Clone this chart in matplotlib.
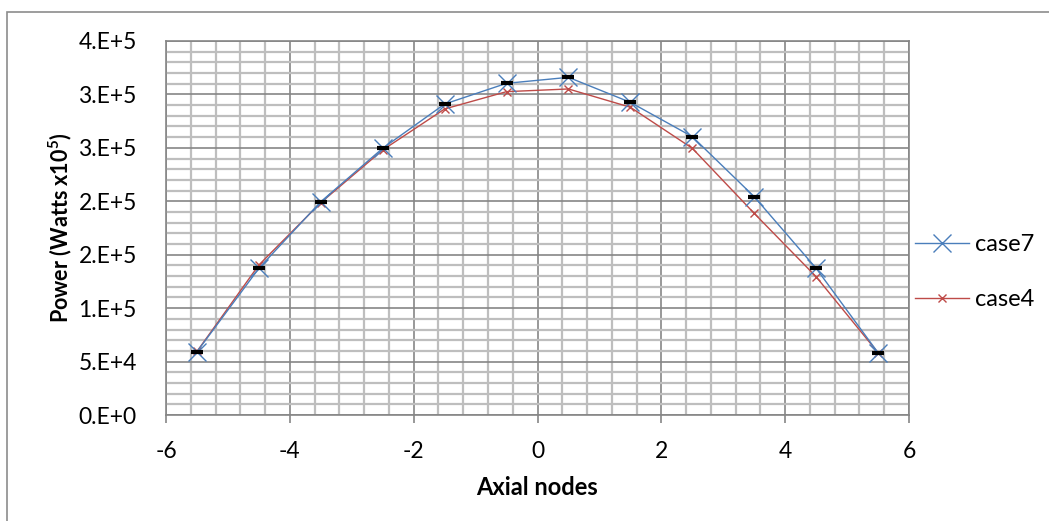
import matplotlib
matplotlib.use("Agg")
import matplotlib.pyplot as plt
from matplotlib.patches import Rectangle
from matplotlib.ticker import MultipleLocator, FixedLocator, FixedFormatter

plt.rcParams['font.family'] = ['Lato', 'DejaVu Sans']
plt.rcParams['mathtext.fontset'] = 'custom'
plt.rcParams['mathtext.rm'] = 'Lato'
plt.rcParams['mathtext.bf'] = 'Lato:bold'
plt.rcParams['axes.unicode_minus'] = False

# Axial node positions and power per node
axial_nodes = [-5.5, -4.5, -3.5, -2.5, -1.5, -0.5, 0.5, 1.5, 2.5, 3.5, 4.5, 5.5]
case7 = [59200, 137300, 199600, 249600, 291000, 310400,
         316000, 292600, 260500, 204300, 137300, 58300]
case4 = [59500, 140400, 198700, 248000, 286400, 302600,
         305100, 288000, 249600, 188700, 129400, 58300]

y_tick_values = [0, 50000, 100000, 150000, 200000, 250000, 300000, 350000]
y_tick_labels = ['0.E+0', '5.E+4', '1.E+5', '2.E+5', '2.E+5', '3.E+5', '3.E+5', '4.E+5']
x_tick_values = [-6, -4, -2, 0, 2, 4, 6]

W, H = 1049, 521
fig = plt.figure(figsize=(W / 100, H / 100), dpi=100)
ax = fig.add_axes([166 / W, 1 - 415 / H, (909 - 166) / W, (415 - 41) / H])

blue = '#4A7EBB'
red = '#BE4B48'
major_grid = '#868686'
minor_grid = '#BEBEBE'

ax.plot(axial_nodes, case7, color=blue, lw=1.0, marker='x', ms=13, mew=1.0,
        label='case7', zorder=4)
ax.plot(axial_nodes, case4, color=red, lw=1.0, marker='x', ms=6, mew=1.0,
        label='case4', zorder=3)
ax.plot(axial_nodes, case7, ls='none', marker='_', ms=8, mew=3.0,
        color='black', zorder=5, label='_nolegend_')

ax.set_xlim(-6, 6)
ax.set_ylim(0, 350000)
ax.xaxis.set_major_locator(FixedLocator(x_tick_values))
ax.xaxis.set_minor_locator(MultipleLocator(0.4))
ax.yaxis.set_major_locator(FixedLocator(y_tick_values))
ax.yaxis.set_major_formatter(FixedFormatter(y_tick_labels))
ax.yaxis.set_minor_locator(MultipleLocator(10000))

ax.grid(which='minor', color=minor_grid, lw=1.6, zorder=0)
ax.grid(which='major', color=major_grid, lw=1.2, zorder=1)
ax.set_axisbelow(True)

for s in ax.spines.values():
    s.set_color(major_grid)
    s.set_linewidth(1.2)

ax.tick_params(axis='x', which='major', length=6, width=1.2, color=major_grid,
               labelsize=16.5, pad=13, direction='out')
ax.tick_params(axis='y', which='major', length=0, labelsize=16.5, pad=21)
ax.tick_params(which='minor', length=0)

ax.set_xlabel('Axial nodes', fontsize=17, fontweight='bold', labelpad=10)
ax.set_ylabel(r'Power (Watts x10$^{\mathbf{5}}$)', fontsize=15.5,
              fontweight='bold', labelpad=3)

leg = fig.legend(loc='upper left', bbox_to_anchor=(915 / W, 1 - 234 / H),
                 frameon=False, fontsize=17, handlelength=2.3,
                 handletextpad=0.25, labelspacing=1.45, borderpad=0,
                 borderaxespad=0)

# Chart-area border
fig.patches.append(Rectangle((7 / W, -0.1), 1.2, 1 - 12 / H + 0.1,
                             transform=fig.transFigure, fill=False,
                             edgecolor='#8C8C8C', lw=1.2))

fig.savefig('out.png', dpi=100)
